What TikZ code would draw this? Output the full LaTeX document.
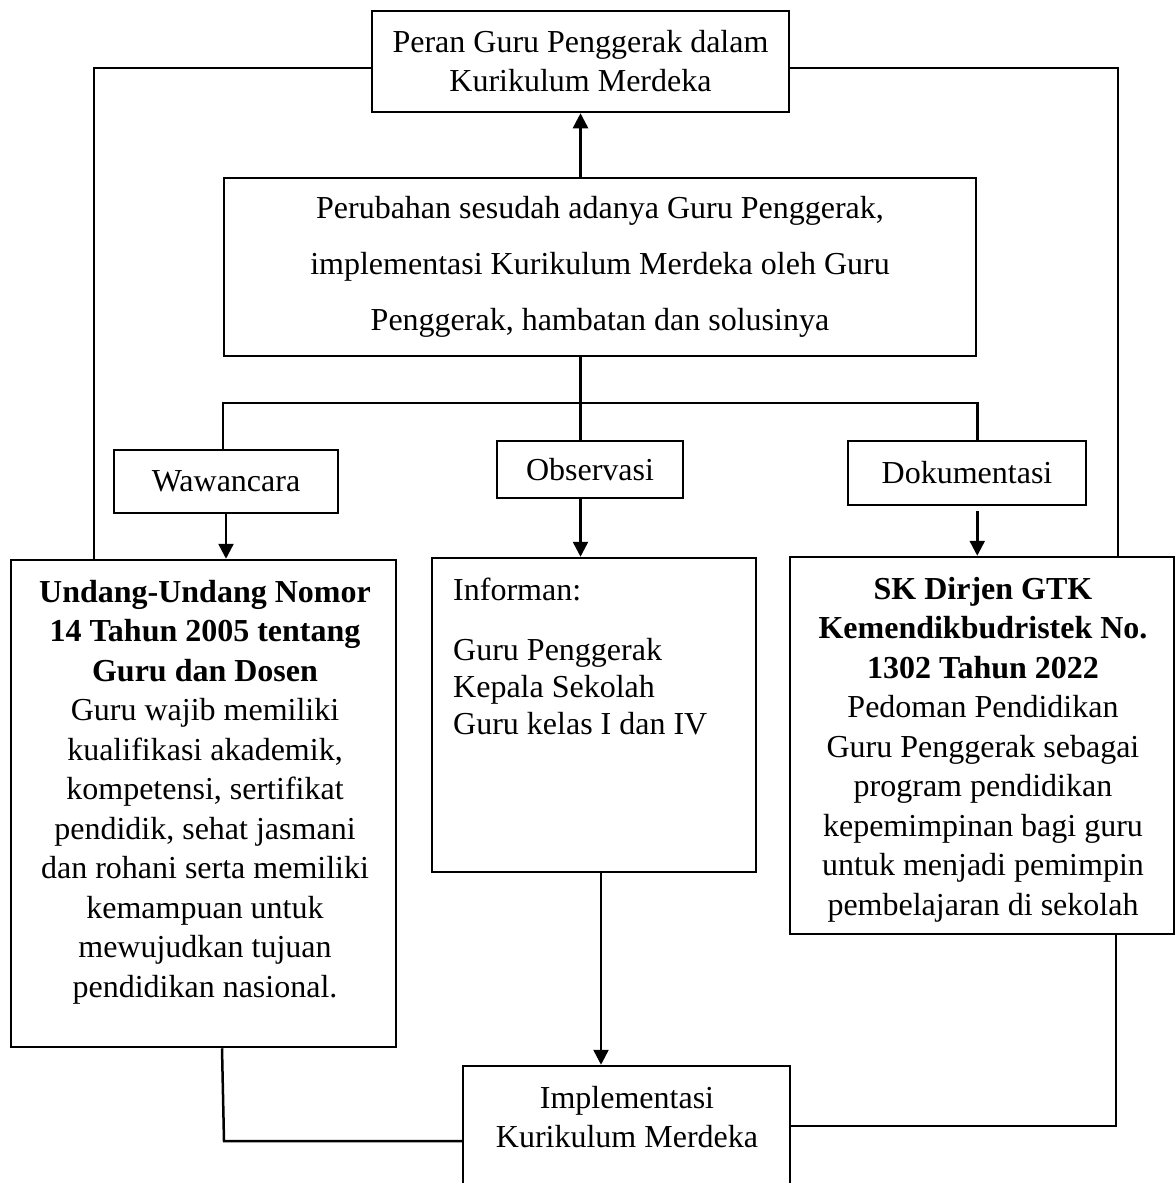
\documentclass[tikz,border=0pt]{standalone}
\usepackage{fontspec}
\setmainfont{Liberation Serif}
\usetikzlibrary{arrows.meta,calc}
\begin{document}
\begin{tikzpicture}[x=1pt,y=-1pt,
  box/.style={draw, line width=2.5pt, inner sep=0pt},
  conn/.style={line width=2.5pt},
  arr/.style={line width=2.5pt, -{Triangle[length=15pt,width=15pt]}},
  txt/.style={font=\fontsize{32}{39.5}\selectfont, align=center, inner sep=0pt},
]
\useasboundingbox (0,0) rectangle (1175,1183);
\fill[white] (0,0) rectangle (1175,1183);

% boxes
\node[box, minimum width=417pt, minimum height=101pt, align=center, font=\fontsize{32}{39}\selectfont] (T) at (580.5,61.5) {Peran Guru Penggerak dalam\\Kurikulum Merdeka};
\node[box, minimum width=752pt, minimum height=178pt, align=center, font=\fontsize{32}{56}\selectfont] (M) at (600,267) {Perubahan sesudah adanya Guru Penggerak,\\implementasi Kurikulum Merdeka oleh Guru\\Penggerak, hambatan dan solusinya};
\node[box, minimum width=224pt, minimum height=63pt, font=\fontsize{32}{36}\selectfont] (W) at (226,481.5) {Wawancara};
\node[box, minimum width=186pt, minimum height=57pt, font=\fontsize{32}{36}\selectfont] (O) at (590,469.5) {Observasi};
\node[box, minimum width=238pt, minimum height=64pt, font=\fontsize{32}{36}\selectfont] (D) at (967,473) {Dokumentasi};
\node[box, minimum width=385pt, minimum height=487pt] (L) at (203.5,803.5) {};
\node[box, minimum width=324pt, minimum height=314pt] (I) at (594,715) {};
\node[box, minimum width=384pt, minimum height=377pt] (R) at (982,745.5) {};
\node[box, minimum width=327pt, minimum height=129pt] (B) at (626.5,1130.5) {};

% texts (anchor base = baseline of last line)
\node[txt, anchor=base] (Lt) at (205,997) {\textbf{Undang-Undang Nomor}\\\textbf{14 Tahun 2005 tentang}\\\textbf{Guru dan Dosen}\\Guru wajib memiliki\\kualifikasi akademik,\\kompetensi, sertifikat\\pendidik, sehat jasmani\\dan rohani serta memiliki\\kemampuan untuk\\mewujudkan tujuan\\pendidikan nasional.};
\node[txt, anchor=base west, align=left, font=\fontsize{32}{37}\selectfont] (It) at (453,734) {Informan:\\[23pt]Guru Penggerak\\Kepala Sekolah\\Guru kelas I dan IV};
\node[txt, anchor=base] (Rt) at (983,915) {\textbf{SK Dirjen GTK}\\\textbf{Kemendikbudristek No.}\\\textbf{1302 Tahun 2022}\\Pedoman Pendidikan\\Guru Penggerak sebagai\\program pendidikan\\kepemimpinan bagi guru\\untuk menjadi pemimpin\\pembelajaran di sekolah};
\node[txt, anchor=base, font=\fontsize{32}{39}\selectfont] (Bt) at (627,1147) {Implementasi\\Kurikulum Merdeka};

% helper coordinates
\coordinate (cl) at (94,0);
\coordinate (cr) at (1118,0);
\coordinate (bus) at (0,403);
\coordinate (ci) at (601,0);
\coordinate (c1) at (222,0);
\coordinate (c1b) at (224,1141);
\coordinate (c2) at (1116,1126);

% connectors
\draw[arr] (M.north -| T.south) -- (T.south);
\draw[conn] ($(T.west)+(0,6.5)$) -| (cl |- L.north);
\draw[conn] ($(T.east)+(0,6.5)$) -| (cr |- R.north);
\draw[conn] (M.south -| T.south) -- (O.north -| T.south);
\draw[conn] (M.west |- W.north) -- (M.west |- bus) -- (M.east |- bus) -- (M.east |- D.north);
\draw[arr] (W.south) -- (W.south |- L.north);
\draw[arr] (O.south -| T.south) -- (I.north -| T.south);
\draw[arr] ($(M.east |- D.south)+(0,5)$) -- (M.east |- R.north);
\draw[arr] (ci |- I.south) -- (ci |- B.north);
\draw[conn] (c1 |- L.south) -- (c1b) -- (B.west |- c1b);
\draw[conn] (c2 |- R.south) -- (c2) -- (B.east |- c2);
\end{tikzpicture}
\end{document}
